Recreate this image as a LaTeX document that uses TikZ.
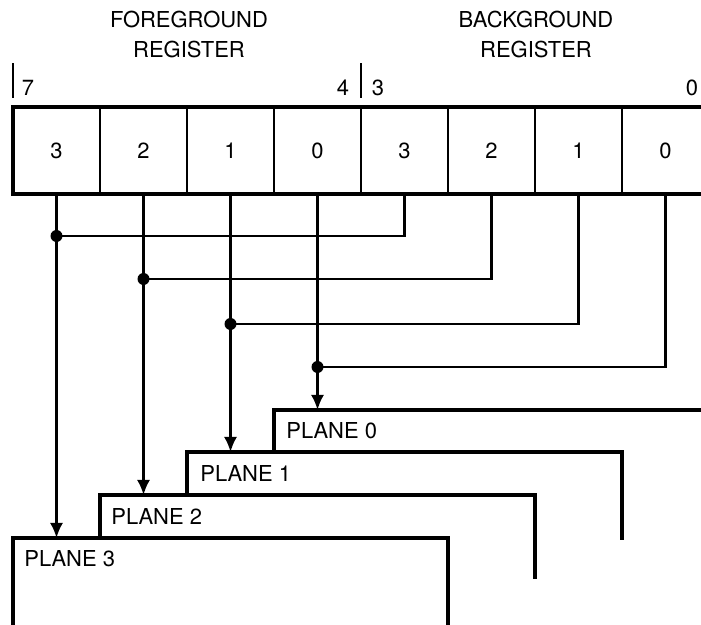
\documentclass[tikz,border=0pt]{standalone}
\usepackage{fontspec}
\setmainfont{TeX Gyre Heros}
\usetikzlibrary{arrows.meta,positioning}

\begin{document}
\begin{tikzpicture}[
				>={Latex[length=0.3cm,width=0.26cm]},
				bitcell/.style={
					draw,
					line width=1.4pt,
					minimum width=1.74cm,
					minimum height=1.74cm,
					outer sep=0pt,
					inner sep=0pt,
					font=\fontsize{12.5}{15}\selectfont
				},
				regtitle/.style={
					align=center,
					inner sep=0pt,
					font=\fontsize{12.5}{17}\selectfont
				},
				bitno/.style={
					inner sep=0pt,
					font=\fontsize{12.5}{15}\selectfont
				},
				planelabel/.style={
					anchor=west,
					inner sep=0pt,
					font=\fontsize{12.5}{15}\selectfont
				},
				tick/.style={line width=1.2pt},
				bus/.style={line width=1.3pt},
				plane/.style={line width=1.8pt},
				junction/.style={circle, fill, inner sep=0pt, minimum size=0.24cm}
				]
				
				\useasboundingbox (0,0) rectangle (14.02,12.5);
				
				% -------------------------------------------------------------------------
				% Register cells
				% -------------------------------------------------------------------------
				
				\node[bitcell] (fg3) at (1.13,9.49) {3};
				\node[bitcell,right=0pt of fg3] (fg2) {2};
				\node[bitcell,right=0pt of fg2] (fg1) {1};
				\node[bitcell,right=0pt of fg1] (fg0) {0};
				\node[bitcell,right=0pt of fg0] (bg3) {3};
				\node[bitcell,right=0pt of bg3] (bg2) {2};
				\node[bitcell,right=0pt of bg2] (bg1) {1};
				\node[bitcell,right=0pt of bg1] (bg0) {0};
				
				\draw[line width=2.3pt] (fg3.north west) rectangle (bg0.south east);
				
				% -------------------------------------------------------------------------
				% Titles and bit numbers
				% -------------------------------------------------------------------------
				
				\node[regtitle] (fgtitle) at (3.78,11.81) {FOREGROUND\\REGISTER};
				\node[regtitle] (bgtitle) at (10.72,11.81) {BACKGROUND\\REGISTER};
				
				\draw[tick] (fg3.north west) ++(0,0.18) -- ++(0,0.7);
				\draw[tick] (bg3.north west) ++(0,0.18) -- ++(0,0.7);
				
				\node[bitno] (bit7) at (0.56,10.74) {7};
				\node[bitno] (bit4) at (6.86,10.74) {4};
				\node[bitno] (bit3) at (7.56,10.74) {3};
				\node[bitno] (bit0) at (13.84,10.74) {0};
				
				% -------------------------------------------------------------------------
				% Planes, stacked back to front
				% -------------------------------------------------------------------------
				
				\coordinate (p3) at (0.26,1.74);
				\coordinate (p2) at (2.00,2.60);
				\coordinate (p1) at (3.74,3.46);
				\coordinate (p0) at (5.48,4.30);
				
				\draw[plane] (p1 -| p0) -- (p0) -- ++(8.9,0);
				\draw[plane] (p2 -| p1) -- (p1) -- ++(8.70,0) -- ++(0,-1.76);
				\draw[plane] (p3 -| p2) -- (p2) -- ++(8.70,0) -- ++(0,-1.68);
				\draw[plane] (0.26,-0.3) -- (p3) -- ++(8.70,0) -- ++(0,-2.2);
				
				\node[planelabel] (plane0) at ([shift={(0.24,-0.42)}]p0) {PLANE 0};
				\node[planelabel] (plane1) at ([shift={(0.26,-0.42)}]p1) {PLANE 1};
				\node[planelabel] (plane2) at ([shift={(0.22,-0.42)}]p2) {PLANE 2};
				\node[planelabel] (plane3) at ([shift={(0.22,-0.42)}]p3) {PLANE 3};
				
				% -------------------------------------------------------------------------
				% Background bits joined onto the foreground lines
				% -------------------------------------------------------------------------
				
				\path (fg3.south) ++(0,-0.84) coordinate (j3);
				\path (fg2.south) ++(0,-1.70) coordinate (j2);
				\path (fg1.south) ++(0,-2.60) coordinate (j1);
				\path (fg0.south) ++(0,-3.46) coordinate (j0);
				
				\draw[bus] (bg3.south) |- (j3);
				\draw[bus] (bg2.south) |- (j2);
				\draw[bus] (bg1.south) |- (j1);
				\draw[bus] (bg0.south) |- (j0);
				
				\draw[bus,->] (fg3.south) -- (fg3.south |- p3);
				\draw[bus,->] (fg2.south) -- (fg2.south |- p2);
				\draw[bus,->] (fg1.south) -- (fg1.south |- p1);
				\draw[bus,->] (fg0.south) -- (fg0.south |- p0);
				
				\node[junction] (dot3) at (j3) {};
				\node[junction] (dot2) at (j2) {};
				\node[junction] (dot1) at (j1) {};
				\node[junction] (dot0) at (j0) {};
				
\end{tikzpicture}
\end{document}
